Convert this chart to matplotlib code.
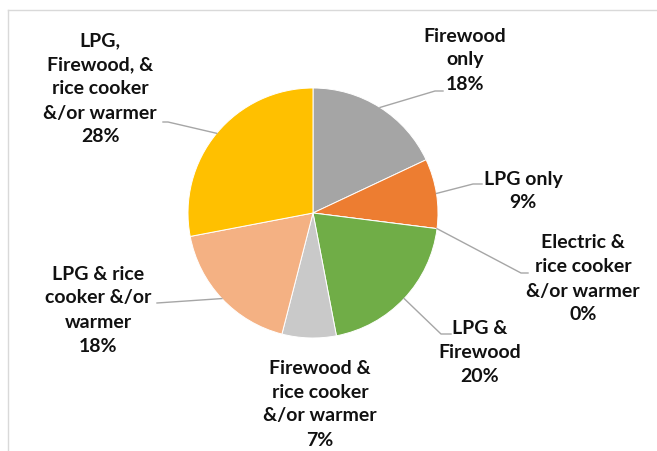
import matplotlib
matplotlib.use("Agg")
import matplotlib.pyplot as plt
from matplotlib.lines import Line2D
import numpy as np

labels = ["Firewood\nonly", "LPG only", "Electric &\nrice cooker\n&/or warmer",
          "LPG &\nFirewood", "Firewood &\nrice cooker\n&/or warmer",
          "LPG & rice\ncooker &/or\nwarmer", "LPG,\nFirewood, &\nrice cooker\n&/or warmer"]
shares = [18, 9, 0, 20, 7, 18, 28]
colors = ["#A5A5A5", "#ED7D31", "#4472C4", "#70AD47", "#C9C9C9", "#F4B183", "#FFC000"]

W, H = 657, 451
plt.rcParams['font.family'] = ['Lato', 'DejaVu Sans']
fig = plt.figure(figsize=(W / 100, H / 100), dpi=100)
ax = fig.add_axes([0, 0, 1, 1])

cx, cy, r = 313, H - 213, 125
wedges, _ = ax.pie(shares, colors=colors, startangle=90, counterclock=False,
                   center=(cx, cy), radius=r, frame=True,
                   wedgeprops=dict(edgecolor="white", linewidth=0.7))
ax.set_xlim(0, W)
ax.set_ylim(0, H)
ax.set_aspect("equal")
ax.axis("off")

# label centre (px from top-left) and leader elbow points
text_pos = [(465, 60), (523, 191), (583, 279), (480, 353), (320, 404), (98, 310), (100, 89)]
elbows = [[(435, 91), (443, 91)], [(473, 184), (482, 184)], [(521, 273), (528, 273)],
          [(441, 334), (451, 334)], None, [(157, 303)], [(168, 122), (163, 122)]]

for w, lab, val, (tx, ty), elb in zip(wedges, labels, shares, text_pos, elbows):
    ax.text(tx, H - ty, f"{lab}\n{val}%", ha="center", va="center",
            fontsize=14, fontweight="bold", color="#111111", linespacing=1.5)
    if elb is None:
        continue
    mid = np.deg2rad((w.theta1 + w.theta2) / 2)
    xs = [cx + r * np.cos(mid)] + [p[0] for p in elb]
    ys = [cy + r * np.sin(mid)] + [H - p[1] for p in elb]
    ax.plot(xs, ys, color="#A6A6A6", linewidth=1)

# chart frame (cropped)
fig.add_artist(Line2D([8 / W, 1], [1 - 10 / H, 1 - 10 / H], color="#D9D9D9", linewidth=1))
fig.add_artist(Line2D([8 / W, 8 / W], [0, 1 - 10 / H], color="#D9D9D9", linewidth=1))

fig.savefig("out.png", dpi=100)
